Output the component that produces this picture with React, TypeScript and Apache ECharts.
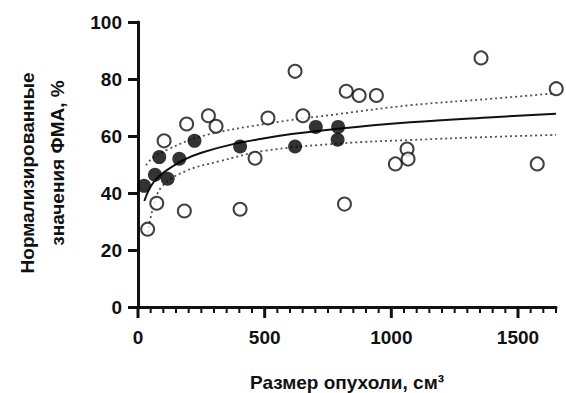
import React, { useEffect, useRef } from "react";
import * as echarts from "echarts";

// Filled circles (group 1): [size cm3, normalized FMA %]
const filledPoints: number[][] = [
  [24, 42.5], [67, 46.4], [84, 52.6], [117, 45], [163, 52], [223, 58.3],
  [403, 56.3], [620, 56.3], [702, 63.2], [790, 63.2], [788, 58.7],
];
// Open circles (group 2)
const openPoints: number[][] = [
  [38, 27.3], [74, 36.4], [103, 58.3], [183, 33.7], [192, 64.2], [278, 67.1],
  [308, 63.4], [403, 34.3], [462, 52.2], [513, 66.3], [620, 82.7], [651, 67.1],
  [815, 36.1], [822, 75.7], [873, 74.2], [941, 74.2], [1016, 50.2], [1062, 55.4],
  [1066, 51.9], [1354, 87.4], [1576, 50.2], [1651, 76.6],
];
// Fitted curve and its confidence band
const fitCurve: number[][] = [
  [25, 37.2], [60, 43.6], [120, 48.4], [250, 54.1], [500, 59.2], [800, 62.6],
  [1075, 64.8], [1400, 66.6], [1650, 67.8],
];
const upperBand: number[][] = [
  [32, 49.7], [60, 52.5], [120, 55.4], [250, 59.9], [500, 64.2], [800, 67.8],
  [1075, 70.8], [1400, 73.1], [1650, 75.0],
];
const lowerBand: number[][] = [
  [40, 26], [60, 35], [95, 42.3], [186, 47.6], [320, 51.1], [500, 54.8],
  [800, 57.4], [1075, 58.6], [1400, 59.7], [1650, 60.4],
];
// Axis ticks
const xMajorTicks = [0, 500, 1000, 1500];
const xMinorTicks = [
  50, 100, 150, 200, 250, 300, 350, 400, 450, 550, 600, 650, 700, 750, 800, 850,
  900, 950, 1050, 1100, 1150, 1200, 1250, 1300, 1350, 1400, 1450, 1550, 1600, 1650,
];
const yTicks = [0, 20, 40, 60, 80, 100];

const FONT = "'Liberation Sans', Arial, Helvetica, sans-serif";
const AXIS_COLOR = "#111";

function xTickSeries(values: number[], len: number, width: number) {
  return {
    type: "custom",
    coordinateSystem: "cartesian2d",
    clip: false,
    z: 10,
    data: values.map((v) => [v, 0]),
    renderItem: (params: any, api: any) => {
      const p = api.coord([api.value(0), api.value(1)]);
      return {
        type: "line",
        shape: { x1: p[0], y1: p[1], x2: p[0], y2: p[1] + len },
        style: { stroke: AXIS_COLOR, lineWidth: width },
      };
    },
  };
}

export default function App() {
  const ref = useRef<HTMLDivElement>(null);
  useEffect(() => {
    document.body.style.margin = "0";
    if (!ref.current) return;
    const chart = echarts.init(ref.current, undefined, { renderer: "svg" });
    chart.setOption({
      animation: false,
      grid: { left: 138, right: 10, top: 22, bottom: 86, outerBoundsMode: "none" },
      xAxis: {
        type: "value",
        min: 0,
        max: 1650,
        axisLine: { show: true, lineStyle: { color: AXIS_COLOR, width: 3 } },
        axisTick: { show: false },
        axisLabel: {
          show: true,
          customValues: xMajorTicks,
          formatter: (v: number) => String(v),
          margin: 21,
          color: AXIS_COLOR,
          fontSize: 19,
          fontWeight: "bold",
          fontFamily: FONT,
        },
        splitLine: { show: false },
        name: "Размер опухоли, см³",
        nameLocation: "middle",
        nameGap: 66,
        nameTextStyle: {
          color: AXIS_COLOR,
          fontSize: 19,
          fontWeight: "bold",
          fontFamily: FONT,
        },
      },
      yAxis: {
        type: "value",
        min: yTicks[0],
        max: yTicks[yTicks.length - 1],
        interval: 20,
        axisLine: { show: true, lineStyle: { color: AXIS_COLOR, width: 3 } },
        axisTick: { show: true, length: 10, lineStyle: { color: AXIS_COLOR, width: 3 } },
        axisLabel: {
          margin: 16,
          color: AXIS_COLOR,
          fontSize: 19,
          fontWeight: "bold",
          fontFamily: FONT,
        },
        splitLine: { show: false },
      },
      graphic: [
        {
          type: "text",
          x: 27,
          y: 173,
          rotation: Math.PI / 2,
          style: {
            text: "Нормализированные",
            fill: AXIS_COLOR,
            font: `bold 19px ${FONT}`,
            textAlign: "center",
            textVerticalAlign: "middle",
          },
        },
        {
          type: "text",
          x: 57,
          y: 163,
          rotation: Math.PI / 2,
          style: {
            text: "значения ФМА, %",
            fill: AXIS_COLOR,
            font: `bold 19px ${FONT}`,
            textAlign: "center",
            textVerticalAlign: "middle",
          },
        },
      ],
      series: [
        xTickSeries(xMajorTicks, 11, 3),
        xTickSeries(xMinorTicks, 6, 2),
        {
          type: "line",
          data: upperBand,
          smooth: 0.4,
          showSymbol: false,
          symbol: "none",
          lineStyle: { color: "#555", width: 1.8, type: [2, 3] },
          z: 2,
        },
        {
          type: "line",
          data: lowerBand,
          smooth: 0.4,
          showSymbol: false,
          symbol: "none",
          lineStyle: { color: "#555", width: 1.8, type: [2, 3] },
          z: 2,
        },
        {
          type: "line",
          data: fitCurve,
          smooth: 0.4,
          showSymbol: false,
          symbol: "none",
          lineStyle: { color: "#111", width: 2 },
          z: 3,
        },
        {
          type: "scatter",
          data: openPoints,
          symbol: "circle",
          symbolSize: 13,
          clip: false,
          itemStyle: { color: "#fff", borderColor: "#111", borderWidth: 2 },
          z: 4,
        },
        {
          type: "scatter",
          data: filledPoints,
          symbol: "circle",
          symbolSize: 14,
          clip: false,
          itemStyle: { color: "#000" },
          z: 5,
        },
      ],
    });
    return () => chart.dispose();
  }, []);
  return <div ref={ref} style={{ width: 566, height: 393 }} />;
}
